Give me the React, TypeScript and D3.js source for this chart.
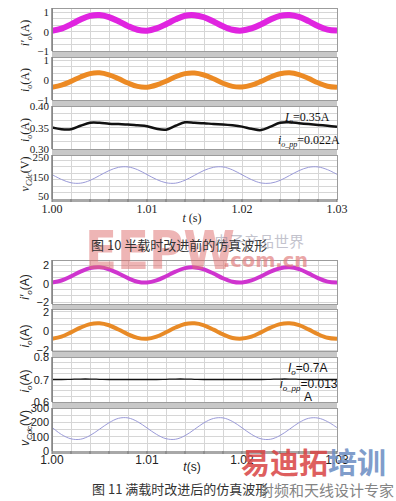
import React from "react";
import * as d3 from "d3";

// sample times (s), read every 1 ms
const time = [
  1.0, 1.001, 1.002, 1.003, 1.004, 1.005, 1.006, 1.007, 1.008, 1.009,
  1.01, 1.011, 1.012, 1.013, 1.014, 1.015, 1.016, 1.017, 1.018, 1.019,
  1.02, 1.021, 1.022, 1.023, 1.024, 1.025, 1.026, 1.027, 1.028, 1.029,
  1.03,
];

// Fig 10: half load, before improvement
const halfIoPrime = [
  0.05, 0.16, 0.38, 0.63, 0.82, 0.87, 0.76, 0.54, 0.29, 0.1,
  0.05, 0.17, 0.39, 0.64, 0.83, 0.86, 0.75, 0.53, 0.28, 0.1,
  0.06, 0.17, 0.38, 0.63, 0.82, 0.87, 0.77, 0.55, 0.3, 0.11,
  0.06,
];
const halfIo = [
  -0.36, -0.26, -0.07, 0.15, 0.32, 0.36, 0.26, 0.07, -0.15, -0.32,
  -0.36, -0.25, -0.06, 0.16, 0.32, 0.35, 0.25, 0.06, -0.16, -0.32,
  -0.35, -0.26, -0.07, 0.15, 0.31, 0.36, 0.27, 0.08, -0.14, -0.31,
  -0.36,
];
const halfIoDc = [
  0.35, 0.346, 0.346, 0.354, 0.361, 0.361, 0.359, 0.358, 0.357, 0.355,
  0.353, 0.347, 0.345, 0.354, 0.362, 0.361, 0.36, 0.358, 0.357, 0.355,
  0.352, 0.347, 0.344, 0.352, 0.361, 0.362, 0.36, 0.358, 0.356, 0.354,
  0.352,
];
const halfVcdc = [
  160, 135, 118, 116, 130, 155, 180, 197, 199, 185,
  160, 135, 118, 116, 131, 156, 181, 197, 199, 184,
  159, 134, 117, 116, 130, 155, 180, 197, 199, 185,
  161,
];

// Fig 11: full load, after improvement
const fullIoPrime = [
  0.11, 0.33, 0.78, 1.28, 1.66, 1.75, 1.54, 1.09, 0.58, 0.2,
  0.11, 0.34, 0.79, 1.29, 1.66, 1.74, 1.53, 1.08, 0.57, 0.2,
  0.12, 0.34, 0.78, 1.28, 1.65, 1.75, 1.55, 1.1, 0.59, 0.21,
  0.11,
];
const fullIo = [
  -0.81, -0.6, -0.15, 0.35, 0.72, 0.81, 0.6, 0.15, -0.35, -0.72,
  -0.81, -0.59, -0.14, 0.36, 0.73, 0.8, 0.59, 0.14, -0.36, -0.73,
  -0.8, -0.6, -0.15, 0.35, 0.72, 0.81, 0.61, 0.16, -0.34, -0.71,
  -0.81,
];
const fullIoDc = [
  0.7, 0.7, 0.701, 0.702, 0.702, 0.701, 0.7, 0.7, 0.7, 0.7,
  0.7, 0.7, 0.701, 0.702, 0.702, 0.701, 0.7, 0.7, 0.7, 0.7,
  0.7, 0.7, 0.7, 0.701, 0.702, 0.702, 0.701, 0.7, 0.7, 0.7,
  0.7,
];
const fullVcdc = [
  165, 115, 85, 82, 108, 152, 197, 228, 231, 205,
  161, 116, 86, 82, 107, 151, 197, 227, 231, 206,
  162, 116, 85, 82, 108, 152, 198, 228, 230, 205,
  163,
];

const xTicks = [1.0, 1.01, 1.02, 1.03];
const xTickLabels = ["1.00", "1.01", "1.02", "1.03"];

const halfTicks = [[-1, 0, 1], [-1, 0, 1], [0.3, 0.35, 0.4], [50, 150, 250]];
const halfTickLabels = [
  ["−1", "0", "1"],
  ["−1", "0", "1"],
  ["0.30", "0.35", "0.40"],
  ["50", "150", "250"],
];
const fullTicks = [[-2, 0, 2], [-2, 0, 2], [0.6, 0.7, 0.8], [0, 100, 200, 300]];
const fullTickLabels = [
  ["−2", "0", "2"],
  ["−2", "0", "2"],
  ["0.6", "0.7", "0.8"],
  ["0", "100", "200", "300"],
];

const PLOT_LEFT = 52;
const PLOT_RIGHT = 337;

const x = d3.scaleLinear().domain([1.0, 1.03]).range([PLOT_LEFT, PLOT_RIGHT]);

type PanelSpec = {
  top: number;
  bottom: number;
  domain: [number, number];
  gridStep: number;
  ticks: number[];
  tickLabels: string[];
  values: number[];
  color: string;
  strokeWidth: number;
  label: React.ReactNode;
  labelY: number;
};

const Panel = ({ p, font }: { p: PanelSpec; font: string }) => {
  const y = d3.scaleLinear().domain(p.domain).range([p.bottom, p.top]);
  const hGrid = d3
    .range(Math.ceil(p.domain[0] / p.gridStep), Math.floor(p.domain[1] / p.gridStep) + 1)
    .map((k) => k * p.gridStep);
  const line = d3
    .line<number>()
    .x((_, i) => x(time[i]))
    .y((d) => y(d))
    .curve(d3.curveCatmullRom);
  const clipId = `clip-${p.top}`;
  return (
    <g>
      <defs>
        <clipPath id={clipId}>
          <rect x={PLOT_LEFT} y={p.top} width={PLOT_RIGHT - PLOT_LEFT} height={p.bottom - p.top} />
        </clipPath>
      </defs>
      <rect x={PLOT_LEFT} y={p.top} width={PLOT_RIGHT - PLOT_LEFT} height={p.bottom - p.top} fill="#fff" />
      <g shapeRendering="crispEdges" stroke="#d6d6d6" strokeWidth={1}>
        {x.ticks(15).map((t) => (
          <line key={`v${t}`} x1={x(t)} x2={x(t)} y1={p.top} y2={p.bottom} />
        ))}
        {hGrid.map((v) => (
          <line key={`h${v}`} x1={PLOT_LEFT} x2={PLOT_RIGHT} y1={y(v)} y2={y(v)} />
        ))}
      </g>
      <path
        d={line(p.values) ?? ""}
        fill="none"
        stroke={p.color}
        strokeWidth={p.strokeWidth}
        clipPath={`url(#${clipId})`}
      />
      <rect
        x={PLOT_LEFT}
        y={p.top}
        width={PLOT_RIGHT - PLOT_LEFT}
        height={p.bottom - p.top}
        fill="none"
        stroke="#9c9c9c"
        strokeWidth={1}
        shapeRendering="crispEdges"
      />
      <line x1={PLOT_LEFT} x2={PLOT_LEFT} y1={p.top} y2={p.bottom} stroke="#808080" strokeWidth={1.5} />
      {p.ticks.map((t, i) => (
        <text
          key={t}
          x={49}
          y={y(t) + 4}
          textAnchor="end"
          fontFamily={font}
          fontSize={11}
          fill="#222"
        >
          {p.tickLabels[i]}
        </text>
      ))}
      <text
        transform={`translate(29,${p.labelY}) rotate(-90)`}
        textAnchor="middle"
        fontFamily={font}
        fontSize={12}
        fill="#222"
      >
        {p.label}
      </text>
    </g>
  );
};

const Sub = ({ base, sub, prime }: { base: string; sub: string; prime?: boolean }) => (
  <>
    <tspan fontStyle="italic">{base}{prime ? "′" : ""}</tspan>
    <tspan fontStyle="italic" fontSize={8} dy={3}>{sub}</tspan>
    <tspan dy={-3}>(A)</tspan>
  </>
);

const VLabel = () => (
  <>
    <tspan fontStyle="italic">v</tspan>
    <tspan fontStyle="italic" fontSize={8} dy={3}>Cdc</tspan>
    <tspan dy={-3}>(V)</tspan>
  </>
);

const Figure = ({
  panels,
  font,
  tickY,
  tLabelY,
  tLabel,
}: {
  panels: PanelSpec[];
  font: string;
  tickY: number;
  tLabelY: number;
  tLabel: string;
}) => {
  const last = panels[panels.length - 1];
  return (
    <g>
      {panels.slice(0, -1).map((p, i) => (
        <rect
          key={`band${i}`}
          x={PLOT_LEFT}
          y={p.bottom}
          width={PLOT_RIGHT - PLOT_LEFT}
          height={panels[i + 1].top - p.bottom}
          fill="#c8c8c8"
        />
      ))}
      {panels.map((p) => (
        <Panel key={p.top} p={p} font={font} />
      ))}
      <rect x={PLOT_LEFT} y={last.bottom} width={PLOT_RIGHT - PLOT_LEFT} height={3} fill="#a8a8a8" />
      {x.ticks(15).map((t) => (
        <line key={t} x1={x(t)} x2={x(t)} y1={last.bottom} y2={last.bottom + 3} stroke="#777" />
      ))}
      {xTicks.map((t, i) => (
        <text key={t} x={x(t)} y={tickY} textAnchor="middle" fontFamily={font} fontSize={12} fill="#222">
          {xTickLabels[i]}
        </text>
      ))}
      <text x={192} y={tLabelY} textAnchor="middle" fontFamily={font} fontSize={12} fill="#222">
        <tspan fontStyle="italic">t</tspan>
        {tLabel}
      </text>
    </g>
  );
};

const halfPanels: PanelSpec[] = [
  { top: 8, bottom: 51, domain: [-1, 1.23], gridStep: 1 / 3, ticks: halfTicks[0], tickLabels: halfTickLabels[0], values: halfIoPrime, color: "#e024e0", strokeWidth: 6, label: <Sub base="i" sub="o" prime />, labelY: 33 },
  { top: 57, bottom: 100, domain: [-1, 1.15], gridStep: 1 / 3, ticks: halfTicks[1], tickLabels: halfTickLabels[1], values: halfIo, color: "#ec8a24", strokeWidth: 5, label: <Sub base="i" sub="o" />, labelY: 80 },
  { top: 106, bottom: 149, domain: [0.3, 0.4], gridStep: 1 / 60, ticks: halfTicks[2], tickLabels: halfTickLabels[2], values: halfIoDc, color: "#111", strokeWidth: 2.5, label: <Sub base="i" sub="o" />, labelY: 130 },
  { top: 155, bottom: 199, domain: [35, 260], gridStep: 100 / 3, ticks: halfTicks[3], tickLabels: halfTickLabels[3], values: halfVcdc, color: "#9a9ad8", strokeWidth: 1, label: <VLabel />, labelY: 174 },
];

const fullPanels: PanelSpec[] = [
  { top: 260, bottom: 304, domain: [-2.2, 2.54], gridStep: 2 / 3, ticks: fullTicks[0], tickLabels: fullTickLabels[0], values: fullIoPrime, color: "#cf34cf", strokeWidth: 4, label: <Sub base="i" sub="o" prime />, labelY: 287 },
  { top: 309, bottom: 351, domain: [-2.1, 2.3], gridStep: 2 / 3, ticks: fullTicks[1], tickLabels: fullTickLabels[1], values: fullIo, color: "#e88a26", strokeWidth: 4, label: <Sub base="i" sub="o" />, labelY: 336 },
  { top: 357, bottom: 402, domain: [0.6, 0.8], gridStep: 0.025, ticks: fullTicks[2], tickLabels: fullTickLabels[2], values: fullIoDc, color: "#111", strokeWidth: 1.3, label: <Sub base="i" sub="o" />, labelY: 381 },
  { top: 408, bottom: 451, domain: [0, 300], gridStep: 50, ticks: fullTicks[3], tickLabels: fullTickLabels[3], values: fullVcdc, color: "#9a9ad8", strokeWidth: 1, label: <VLabel />, labelY: 428 },
];

const SERIF = "'Liberation Serif', 'DejaVu Serif', serif";
const SANS = "'Liberation Sans', Arial, sans-serif";
const CJK = "'Noto Sans CJK SC', sans-serif";

export default function App() {
  return (
    <svg
      width={396}
      height={501}
      style={{ position: "absolute", left: 0, top: 0, background: "#fff" }}
    >
      <rect width={396} height={501} fill="#fff" />
      <Figure panels={halfPanels} font={SERIF} tickY={213} tLabelY={222} tLabel=" (s)" />
      <Figure panels={fullPanels} font={SANS} tickY={464} tLabelY={471} tLabel="(s)" />

      {/* annotations */}
      <text x={285} y={121} fontFamily={SERIF} fontSize={12} fill="#111">
        <tspan fontStyle="italic">I</tspan>
        <tspan fontStyle="italic" fontSize={8} dy={3}>o</tspan>
        <tspan dy={-3}>=0.35A</tspan>
      </text>
      <text x={278} y={144} fontFamily={SERIF} fontSize={12} fill="#111">
        <tspan fontStyle="italic">i</tspan>
        <tspan fontStyle="italic" fontSize={8} dy={3}>o_pp</tspan>
        <tspan dy={-3}>=0.022A</tspan>
      </text>
      <text x={288} y={372} fontFamily={SANS} fontSize={12} fill="#111">
        <tspan fontStyle="italic">I</tspan>
        <tspan fontStyle="italic" fontSize={8} dy={3}>o</tspan>
        <tspan dy={-3}>=0.7A</tspan>
      </text>
      <text x={280} y={388} fontFamily={SANS} fontSize={12} fill="#111">
        <tspan fontStyle="italic">i</tspan>
        <tspan fontStyle="italic" fontSize={8} dy={3}>o_pp</tspan>
        <tspan dy={-3}>=0.013</tspan>
      </text>
      <text x={304} y={401} fontFamily={SANS} fontSize={12} fill="#111">A</text>

      {/* watermark under caption 10 */}
      <text x={85} y={269} fontFamily="'DejaVu Sans', sans-serif" fontWeight="bold" fontSize={54} textLength={150} lengthAdjust="spacingAndGlyphs" fill="#df6e6e" opacity={0.5}>
        EEPW
      </text>

      {/* captions */}
      <text x={91} y={250} fontFamily={CJK} fontSize={13} fill="#333">
        图 10 半载时改进前的仿真波形
      </text>
      <text x={214} y={247} fontFamily={CJK} fontSize={15} fill="#7b7b92" opacity={0.45}>
        电子产品世界
      </text>
      <text x={223} y={267} fontFamily="'DejaVu Sans', sans-serif" fontWeight="bold" fontSize={19} textLength={85} lengthAdjust="spacingAndGlyphs" fill="#e07878" opacity={0.65}>
        .com.cn
      </text>

      <text x={92} y={494} fontFamily={CJK} fontSize={13} fill="#333">
        图 11 满载时改进后的仿真波形
      </text>
      <text x={241} y={474} fontFamily={CJK} fontWeight="bold" fontSize={29} fill="#d94444" opacity={0.85}>
        易迪拓
        <tspan fill="#6a8cc2">培训</tspan>
      </text>
      <text x={259} y={496} fontFamily={CJK} fontSize={15} fill="#777" opacity={0.9}>
        射频和天线设计专家
      </text>
    </svg>
  );
}
